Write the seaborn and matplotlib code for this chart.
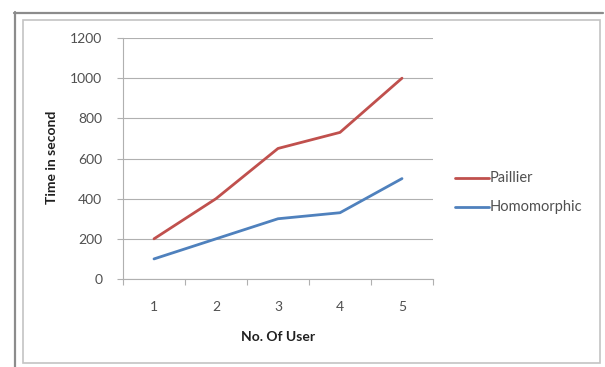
import matplotlib
matplotlib.use("Agg")
import matplotlib.pyplot as plt
import seaborn as sns
import pandas as pd
from matplotlib.patches import Rectangle
from matplotlib.lines import Line2D

users = [1, 2, 3, 4, 5]
paillier = [200, 400, 650, 730, 1000]
homomorphic = [100, 200, 300, 330, 500]
series_names = ["Paillier", "Homomorphic"]
y_ticks = [0, 200, 400, 600, 800, 1000, 1200]

df = pd.DataFrame({
    "No. Of User": users * 2,
    "Time in second": paillier + homomorphic,
    "Scheme": [series_names[0]] * len(users) + [series_names[1]] * len(users),
})

sns.set_theme(style="white")
plt.rcParams["font.family"] = ["Lato", "DejaVu Sans"]

W, H = 605, 367
fig = plt.figure(figsize=(W / 100, H / 100), dpi=100)
fig.patch.set_facecolor("white")

def fx(x):
    return x / W

def fy(y):
    return 1 - y / H

# chart frame: outer and inner borders
fig.add_artist(Line2D([fx(14), fx(603)], [fy(12.5), fy(12.5)], color="#8c8c8c", lw=1.6))
fig.add_artist(Line2D([fx(14.5), fx(14.5)], [fy(12), fy(367)], color="#8c8c8c", lw=1.6))
fig.add_artist(Rectangle((fx(23), fy(363)), fx(600) - fx(23), fy(20) - fy(363),
                         fill=False, edgecolor="#c4c4c4", lw=1.2))

ax = fig.add_axes([fx(123), fy(279), fx(433) - fx(123), fy(38) - fy(279)])

palette = {"Paillier": "#C0504D", "Homomorphic": "#4F81BD"}
sns.lineplot(data=df, x="No. Of User", y="Time in second", hue="Scheme",
             palette=palette, linewidth=2.0, ax=ax, legend=False)

ax.set_xlim(0.5, 5.5)
ax.set_ylim(0, 1200)
ax.set_yticks(y_ticks)
ax.set_xticks(users)
ax.set_xticks([0.5 + i for i in range(6)], minor=True)
ax.yaxis.grid(True, color="#b0b0b0", lw=0.8)
ax.set_axisbelow(True)

for s in ["top", "right"]:
    ax.spines[s].set_visible(False)
for s in ["left", "bottom"]:
    ax.spines[s].set_color("#b0b0b0")
    ax.spines[s].set_linewidth(0.8)

ax.tick_params(axis="x", which="major", length=0, pad=16, labelsize=10, labelcolor="#505050")
ax.tick_params(axis="x", which="minor", length=4, width=0.8, color="#b0b0b0", direction="out", bottom=True)
ax.tick_params(axis="y", length=4, width=0.8, color="#b0b0b0", direction="out", left=True,
               pad=11, labelsize=10, labelcolor="#505050")

ax.set_xlabel("No. Of User", fontsize=10, fontweight="bold", color="#202020", labelpad=13)
ax.set_ylabel("")
fig.text(fx(52), fy(157), "Time in second", rotation=90, fontsize=10, fontweight="bold",
         color="#202020", ha="center", va="center")

# legend
for name, yy in zip(series_names, [178, 207]):
    fig.add_artist(Line2D([fx(455), fx(489)], [fy(yy), fy(yy)], color=palette[name], lw=2.0))
    fig.text(fx(490), fy(yy), name, fontsize=10.5, color="#505050", ha="left", va="center")

fig.savefig("out.png", dpi=100, facecolor="white")
